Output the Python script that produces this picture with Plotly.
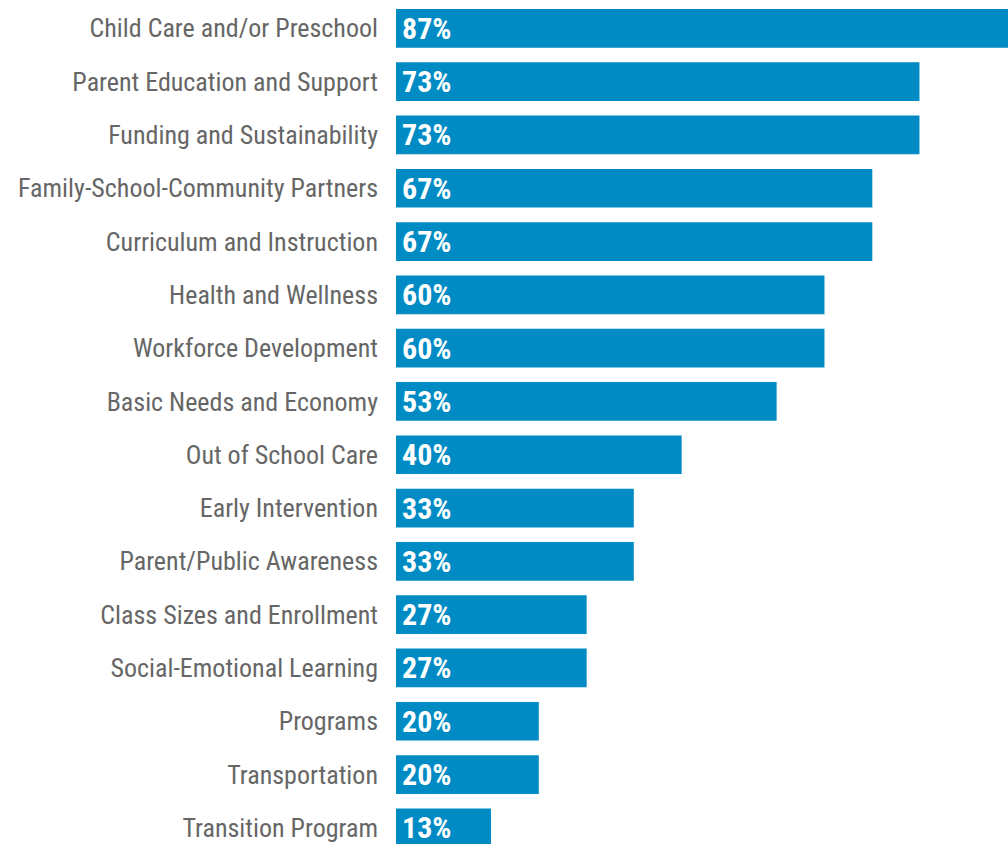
import plotly.graph_objects as go

categories = [
    "Child Care and/or Preschool",
    "Parent Education and Support",
    "Funding and Sustainability",
    "Family-School-Community Partners",
    "Curriculum and Instruction",
    "Health and Wellness",
    "Workforce Development",
    "Basic Needs and Economy",
    "Out of School Care",
    "Early Intervention",
    "Parent/Public Awareness",
    "Class Sizes and Enrollment",
    "Social-Emotional Learning",
    "Programs",
    "Transportation",
    "Transition Program",
]
values = [86.7, 73.3, 73.3, 66.7, 66.7, 60.0, 60.0, 53.3, 40.0, 33.3, 33.3, 26.7, 26.7, 20.0, 20.0, 13.3]
value_labels = ["87%", "73%", "73%", "67%", "67%", "60%", "60%", "53%", "40%", "33%", "33%", "27%", "27%", "20%", "20%", "13%"]

BAR_COLOR = "#008BC4"
LABEL_COLOR = "#666666"
FONT = "Roboto Condensed, Roboto"
COND = "font-stretch:condensed"

fig = go.Figure(
    go.Bar(
        x=values,
        y=categories,
        orientation="h",
        marker=dict(color=BAR_COLOR, line=dict(width=0)),
        hoverinfo="skip",
    )
)

for cat, lab in zip(categories, value_labels):
    fig.add_annotation(
        x=0, y=cat, text=f"<span style='{COND}'><b>{lab}</b></span>", showarrow=False,
        xanchor="left", yanchor="middle", xshift=4,
        font=dict(family=FONT, size=30, color="white"),
    )

fig.update_layout(
    width=1008, height=844,
    margin=dict(l=396, r=0, t=0, b=0),
    paper_bgcolor="white", plot_bgcolor="white",
    bargap=0.274,
    showlegend=False,
    xaxis=dict(range=[0, 85.7], visible=False, fixedrange=True),
    yaxis=dict(
        type="category",
        categoryorder="array", categoryarray=categories,
        tickvals=categories,
        ticktext=[f"<span style='{COND}'>{c}</span>" for c in categories],
        range=[15.303, -0.532],
        showgrid=False, zeroline=False, showline=False,
        ticks="", ticklabelstandoff=17,
        tickfont=dict(family=FONT, size=26, color=LABEL_COLOR),
    ),
)

fig.write_html("out.html")
